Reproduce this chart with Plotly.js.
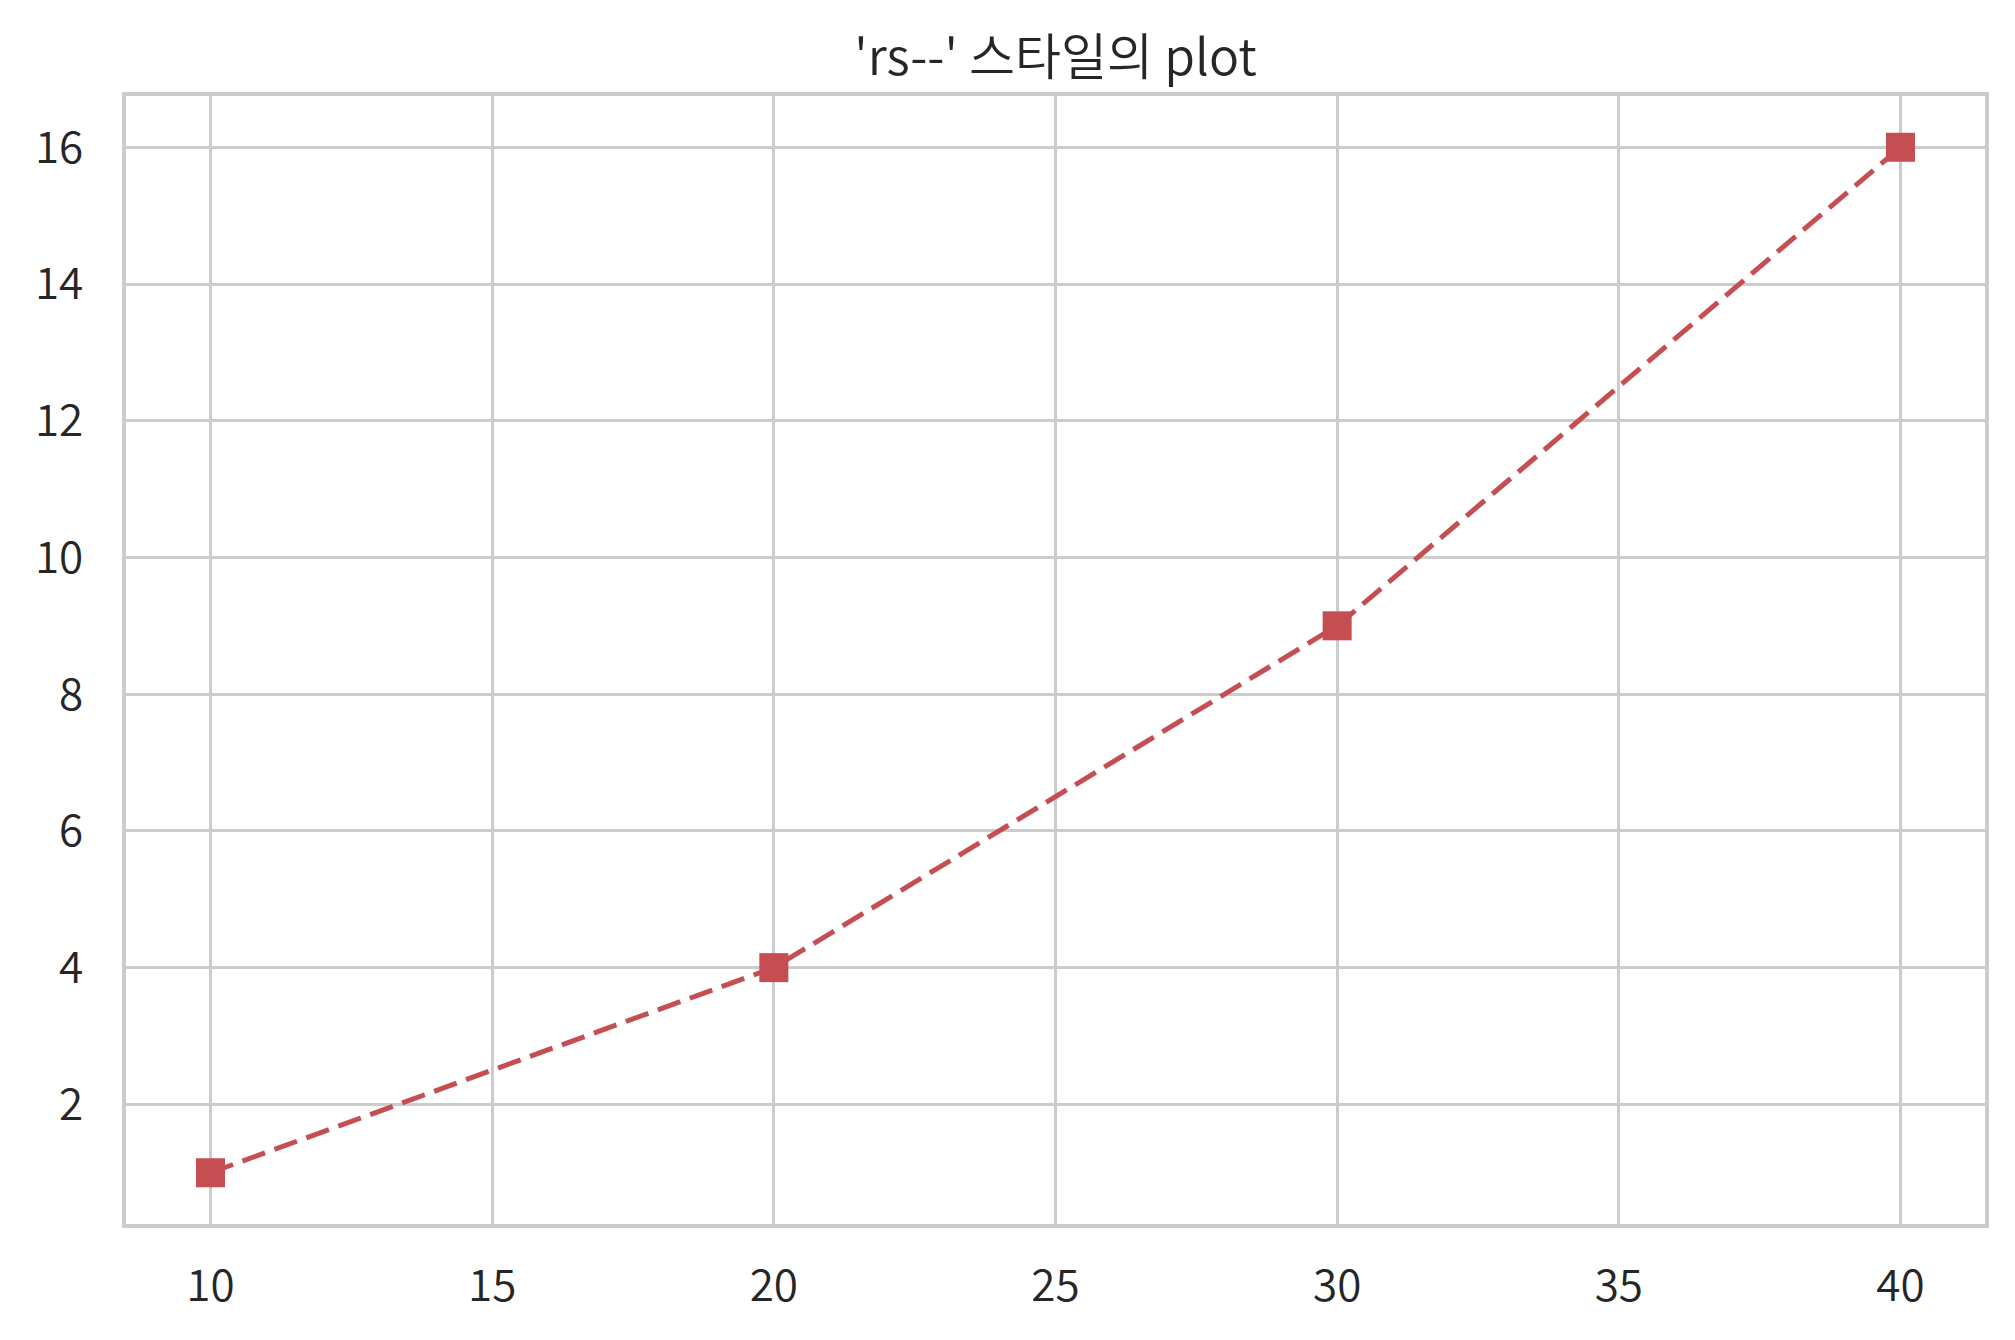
<!DOCTYPE html>
<html>
<head>
<meta charset="utf-8">
<script src="https://cdn.plot.ly/plotly-3.0.1.min.js"></script>
<style>html,body{margin:0;padding:0;background:#fff;}#chart{width:2015px;height:1340px;}</style>
</head>
<body>
<div id="chart"></div>
<script>
const xValues = [10, 20, 30, 40];
const yValues = [1, 4, 9, 16];
const xTicks = [10, 15, 20, 25, 30, 35, 40];
const yTicks = [2, 4, 6, 8, 10, 12, 14, 16];
const chartTitle = "'rs--' 스타일의 plot";

const font = '"Noto Sans CJK KR DemiLight", "Noto Sans CJK KR Light", "Noto Sans CJK KR", "Noto Sans", sans-serif';
const trace = {
  x: xValues, y: yValues, type: 'scatter', mode: 'lines+markers',
  line: {color: '#C44E52', width: 5, dash: '24px,10px'},
  marker: {symbol: 'square', size: 29, color: '#C44E52', line: {width: 0}}
};
const axisCommon = {
  showgrid: true, gridcolor: '#cccccc', gridwidth: 3,
  showline: true, linecolor: '#cccccc', linewidth: 4, mirror: true,
  zeroline: false, ticks: '',
  tickfont: {family: font, size: 44, color: '#262626', weight: 300}
};
const layout = {
  width: 2015, height: 1340,
  paper_bgcolor: '#ffffff', plot_bgcolor: '#ffffff',
  margin: {l: 126, r: 30, t: 96, b: 116},
  showlegend: false,
  title: {text: chartTitle, x: 0.5, xanchor: 'center', xref: 'paper', y: 0.957, yanchor: 'middle',
          font: {family: font, size: 50, color: '#262626', weight: 300}},
  xaxis: Object.assign({}, axisCommon, {ticklabelstandoff: 20, range: [8.5, 41.5], tickvals: xTicks, ticktext: xTicks.map(String)}),
  yaxis: Object.assign({}, axisCommon, {ticklabelstandoff: 30, range: [0.25, 16.75], tickvals: yTicks, ticktext: yTicks.map(String)})
};
Plotly.newPlot('chart', [trace], layout, {displayModeBar: false, staticPlot: true});
</script>
</body>
</html>
